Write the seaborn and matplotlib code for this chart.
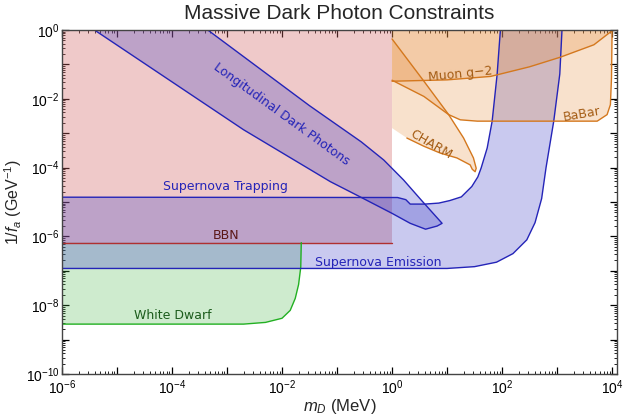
import matplotlib
matplotlib.use("Agg")
import matplotlib.pyplot as plt
import matplotlib.ticker as mticker
import numpy as np
import seaborn as sns

# boundary curves (mass in MeV, 1/f_a in GeV^-1)
bbn_mass = [1e-6, 1.0]
bbn_coupling = 6.6e-7

# supernova emission (outer) and trapping (inner) boundaries
se_outer_mass = [1e-6, 10, 31.6, 79.4, 158, 282, 398, 525, 631, 871, 1122, 1230]
se_outer_coupling = [1.17e-7, 1.17e-7, 1.32e-7, 1.78e-7, 3.16e-7, 7.94e-7,
                     2.51e-6, 1.26e-5, 1e-4, 2.24e-3, 5.25e-2, 1.0]
se_inner_mass = [1e-6, 1.26, 1.78, 2.14, 3.98, 7.08, 11.2, 18.2, 28.2, 36.3,
                 41.7, 53.7, 66.1, 81.3, 93.3]
se_inner_coupling = [1.38e-5, 1.35e-5, 1.17e-5, 8.7e-6, 8.7e-6, 9.3e-6, 1.1e-5,
                     1.41e-5, 2.82e-5, 5.37e-5, 9.77e-5, 3.72e-4, 2.24e-3,
                     5.01e-2, 1.0]

# longitudinal dark photons band
ldp_upper_mass = [3.89e-6, 4.47e-4, 3.16e-2, 0.275, 0.708, 1.62, 3.55, 8.13]
ldp_upper_coupling = [1.0, 1.0, 6.31e-3, 5.62e-4, 1.66e-4, 4.37e-5, 1.05e-5, 2.4e-6]
ldp_lower_mass = [8.13, 6.61, 4.07, 2.14, 1.0, 0.263, 0.0759, 2.0e-3, 3.89e-6]
ldp_lower_coupling = [2.4e-6, 2.0e-6, 1.62e-6, 2.4e-6, 4.68e-6, 1.41e-5, 3.89e-5,
                      1.26e-3, 1.0]

# white dwarf
wd_mass = [0.0224, 0.0219, 0.020, 0.0174, 0.0141, 0.01, 5.0e-3, 2.0e-3, 1e-6]
wd_coupling = [6.6e-7, 1.26e-7, 3.98e-8, 1.58e-8, 7.08e-9, 4.17e-9, 3.16e-9,
               2.82e-9, 2.82e-9]

# muon g-2
g2_mass = [1, 10, 61.7, 93.3, 316, 1148, 4677, 1e4]
g2_coupling = [3.24e-2, 3.55e-2, 4.47e-2, 5.25e-2, 8.51e-2, 0.162, 0.372, 0.95]

# BaBar
babar_mass = [1, 3.8, 10.7, 17.4, 35.5, 5370, 8128, 9333, 9772, 1e4, 1e4]
babar_coupling = [3.47e-2, 1.17e-2, 3.47e-3, 2.45e-3, 2.24e-3, 2.24e-3, 3.47e-3,
                  6.76e-3, 3.98e-2, 0.724, 1.0]

# CHARM
charm_mass = [1, 3.8, 10.7, 20.0, 30.2, 33.9, 32.4, 28.8, 26.3, 15.1, 7.59,
              3.8, 1.86, 1]
charm_coupling = [0.55, 3.24e-2, 3.47e-3, 7.24e-4, 1.91e-4, 9.55e-5, 7.59e-5,
                  8.91e-5, 1.2e-4, 1.91e-4, 2.63e-4, 4.17e-4, 7.24e-4, 1.41e-3]

BLUE = "#2424b8"
ORANGE = "#d4781e"
GREEN = "#22b022"
RED = "#b03030"
ORANGE_TEXT = "#a45c14"

sns.set_theme(style="ticks")
plt.rcParams["font.family"] = ["Liberation Sans", "DejaVu Sans"]
plt.rcParams["mathtext.fontset"] = "custom"
plt.rcParams["mathtext.rm"] = "Liberation Sans"
plt.rcParams["mathtext.it"] = "Liberation Sans:italic"

fig, ax = plt.subplots(figsize=(6.4, 4.17), dpi=100)
fig.subplots_adjust(left=62 / 640, right=617 / 640, top=1 - 30 / 417, bottom=1 - 374 / 417)
ax.set_xscale("log")
ax.set_yscale("log")
ax.set_xlim(1e-6, 10 ** 4.09)
ax.set_ylim(1e-10, 1)

# fills
ax.fill([1e-6, 1e-6, 1, 1], [bbn_coupling, 1, 1, bbn_coupling],
        facecolor=(0.82, 0.39, 0.39), alpha=0.34, lw=0)
ax.fill(wd_mass + [1e-6], wd_coupling + [bbn_coupling],
        facecolor=(0.24, 0.7, 0.24), alpha=0.25, lw=0)
ax.fill(se_outer_mass + se_inner_mass[::-1], se_outer_coupling + se_inner_coupling[::-1],
        facecolor=(0.24, 0.24, 0.78), alpha=0.28, lw=0)
ax.fill(ldp_upper_mass + ldp_lower_mass, ldp_upper_coupling + ldp_lower_coupling,
        facecolor=(0.24, 0.24, 0.78), alpha=0.28, lw=0)
orange_fill = (0.9, 0.55, 0.24)
ax.fill(g2_mass + [1e4, 1], g2_coupling + [1, 1], facecolor=orange_fill, alpha=0.26, lw=0)
ax.fill(babar_mass + [1], babar_coupling + [1], facecolor=orange_fill, alpha=0.26, lw=0)
ax.fill(charm_mass, charm_coupling, facecolor=orange_fill, alpha=0.26, lw=0)

# boundary lines
def edge(x, y, color):
    sns.lineplot(x=x, y=y, sort=False, estimator=None, color=color, lw=1.0, ax=ax)

edge(bbn_mass, [bbn_coupling] * 2, RED)
edge(wd_mass, wd_coupling, GREEN)
edge(se_outer_mass, se_outer_coupling, BLUE)
edge(se_inner_mass, se_inner_coupling, BLUE)
edge(ldp_upper_mass[1:] + ldp_lower_mass, ldp_upper_coupling[1:] + ldp_lower_coupling, BLUE)
edge(g2_mass, g2_coupling, ORANGE)
edge(babar_mass, babar_coupling, ORANGE)
edge(charm_mass[:-1], charm_coupling[:-1], ORANGE)

# region labels
lab = dict(family="DejaVu Sans", fontsize=9, ha="center", va="center",
           rotation_mode="anchor")
ax.text(10 ** -2.01, 10 ** -2.44, "Longitudinal Dark Photons", color=BLUE, rotation=-36, **lab)
ax.text(10 ** -3.02, 10 ** -4.56, "Supernova Trapping", color=BLUE, **lab)
ax.text(10 ** -3.01, 10 ** -5.96, "BBN", color="#5a1616", **lab)
ax.text(10 ** -0.25, 10 ** -6.75, "Supernova Emission", color=BLUE, **lab)
ax.text(10 ** -3.98, 10 ** -8.31, "White Dwarf", color="#1c5c1c", **lab)
ax.text(10 ** 1.24, 10 ** -1.28, "Muon g\u22122", color=ORANGE_TEXT, rotation=6, **lab)
ax.text(10 ** 0.70, 10 ** -3.34, "CHARM", color=ORANGE_TEXT, rotation=-30, **lab)
ax.text(10 ** 3.45, 10 ** -2.44, "BaBar", color=ORANGE_TEXT, rotation=10, **lab)

# frame ticks
def even_decades(v, pos):
    e = int(round(np.log10(v)))
    return r"$10^{%d}$" % e if e % 2 == 0 else ""

for axis in (ax.xaxis, ax.yaxis):
    axis.set_major_locator(mticker.LogLocator(base=10, numticks=20))
    axis.set_minor_locator(mticker.LogLocator(base=10, subs=np.arange(2, 10), numticks=20))
    axis.set_major_formatter(mticker.FuncFormatter(even_decades))
    axis.set_minor_formatter(mticker.NullFormatter())

ax.tick_params(which="both", direction="in", top=True, right=True, colors="black",
               labelsize=10)
ax.tick_params(which="major", length=5, width=0.9, pad=2)
ax.tick_params(which="minor", length=2.5, width=0.6)
ax.tick_params(axis="x", which="major", pad=3)
for s in ax.spines.values():
    s.set_color("#444444")
    s.set_linewidth(1.0)

ax.set_xlabel("$m_D$ (MeV)", fontsize=12, labelpad=0)
ax.set_ylabel("1/$f_a$ (GeV$^{-1}$)", fontsize=11.5, labelpad=1)
ax.set_title("Massive Dark Photon Constraints", fontsize=15, pad=8)

fig.savefig("out.png", dpi=100)
